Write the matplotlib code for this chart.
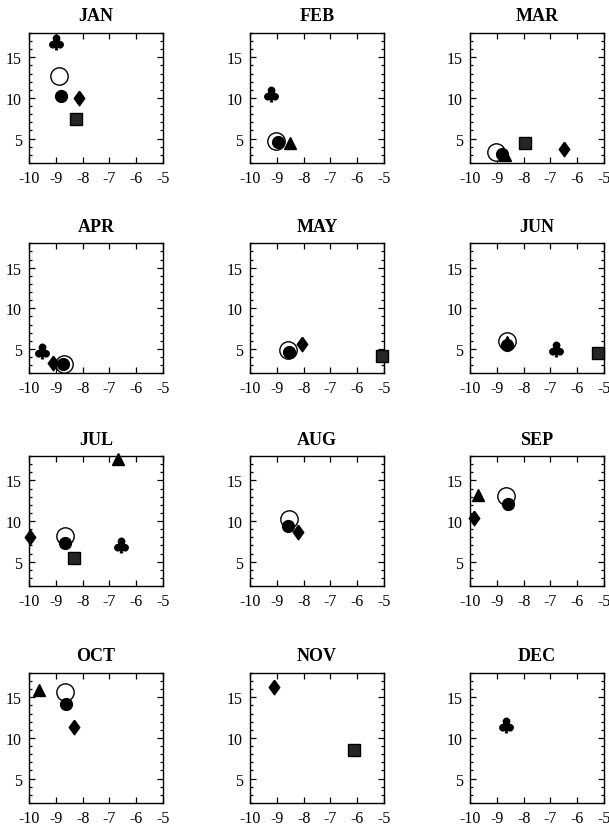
import numpy as np
import matplotlib
matplotlib.use('Agg')
import matplotlib.pyplot as plt
from matplotlib.ticker import MultipleLocator

plt.rcParams['font.family'] = ['Liberation Serif', 'DejaVu Serif']
plt.rcParams['axes.unicode_minus'] = False

months = ['JAN', 'FEB', 'MAR', 'APR', 'MAY', 'JUN',
          'JUL', 'AUG', 'SEP', 'OCT', 'NOV', 'DEC']

# open (large) circle
ring_month = ['JAN', 'FEB', 'MAR', 'APR', 'MAY', 'JUN', 'JUL', 'AUG', 'SEP', 'OCT']
ring_x = [-8.88, -9.02, -9.04, -8.68, -8.59, -8.62, -8.64, -8.54, -8.65, -8.64]
ring_y = [12.7, 4.7, 3.4, 3.2, 4.9, 6.0, 8.1, 10.3, 13.1, 15.7]

# filled circle
dot_month = ['JAN', 'FEB', 'MAR', 'APR', 'MAY', 'JUN', 'JUL', 'AUG', 'SEP', 'OCT']
dot_x = [-8.81, -8.97, -8.81, -8.73, -8.55, -8.62, -8.66, -8.57, -8.57, -8.61]
dot_y = [10.3, 4.6, 3.1, 3.2, 4.6, 5.5, 7.35, 9.4, 12.1, 14.2]

# club
club_month = ['JAN', 'FEB', 'APR', 'JUN', 'JUL', 'DEC']
club_x = [-8.98, -9.21, -9.52, -6.8, -6.55, -8.65]
club_y = [16.9, 10.5, 4.8, 5.0, 7.1, 11.6]

# diamond
diam_month = ['JAN', 'MAR', 'APR', 'MAY', 'JUL', 'AUG', 'SEP', 'OCT', 'NOV']
diam_x = [-8.12, -6.5, -9.12, -8.05, -9.96, -8.19, -9.84, -8.31, -9.1]
diam_y = [10.0, 3.7, 3.3, 5.6, 8.05, 8.6, 10.4, 11.4, 16.3]

# square
sq_month = ['JAN', 'MAR', 'MAY', 'JUN', 'JUL', 'NOV']
sq_x = [-8.24, -7.93, -5.09, -5.23, -8.33, -6.1]
sq_y = [7.35, 4.4, 4.1, 4.55, 5.5, 8.5]

# triangle
tri_month = ['FEB', 'MAR', 'JUN', 'JUL', 'SEP', 'OCT']
tri_x = [-8.52, -8.69, -8.62, -6.68, -9.71, -9.63]
tri_y = [4.5, 3.0, 5.8, 17.6, 13.2, 15.9]

diamond = [(0, 1), (0.72, 0), (0, -1), (-0.72, 0), (0, 1)]

series = [
    (ring_month, ring_x, ring_y, dict(marker='o', ms=12.5, mfc='white', mec='black', mew=1.0), 2),
    (dot_month, dot_x, dot_y, dict(marker='o', ms=8.5, mfc='black', mec='black'), 3),
    (club_month, club_x, club_y, dict(marker=r'$\clubsuit$', ms=10.5, mfc='black', mec='black'), 3),
    (diam_month, diam_x, diam_y, dict(marker=diamond, ms=10.5, mfc='black', mec='black'), 3),
    (sq_month, sq_x, sq_y, dict(marker='s', ms=8, mfc='0.15', mec='black'), 3),
    (tri_month, tri_x, tri_y, dict(marker='^', ms=8, mfc='black', mec='black'), 4),
]

fig = plt.figure(figsize=(6.09, 8.28), dpi=100)

lefts = [0.0476, 0.4105, 0.7718]
bottoms = [0.802, 0.548, 0.291, 0.029]
w, h = 0.22, 0.157

for i, m in enumerate(months):
    r, c = divmod(i, 3)
    ax = fig.add_axes([lefts[c], bottoms[r], w, h])
    for mlist, xs, ys, style, z in series:
        for mm, x, y in zip(mlist, xs, ys):
            if mm == m:
                ax.plot(x, y, linestyle='none', zorder=z, clip_on=False, **style)
    ax.set_xlim(-10, -5)
    ax.set_ylim(2, 18)
    ax.set_xticks([-10, -9, -8, -7, -6, -5])
    ax.set_yticks([5, 10, 15])
    ax.yaxis.set_minor_locator(MultipleLocator(1))
    ax.tick_params(which='both', direction='in', top=True, right=True,
                   labelsize=11.5, width=0.9)
    ax.tick_params(which='major', length=4, pad=5)
    ax.tick_params(which='minor', length=2)
    for s in ax.spines.values():
        s.set_linewidth(1.0)
    ax.set_title(m, fontsize=13, fontweight='bold', pad=9)

fig.savefig('out.png', dpi=100)
